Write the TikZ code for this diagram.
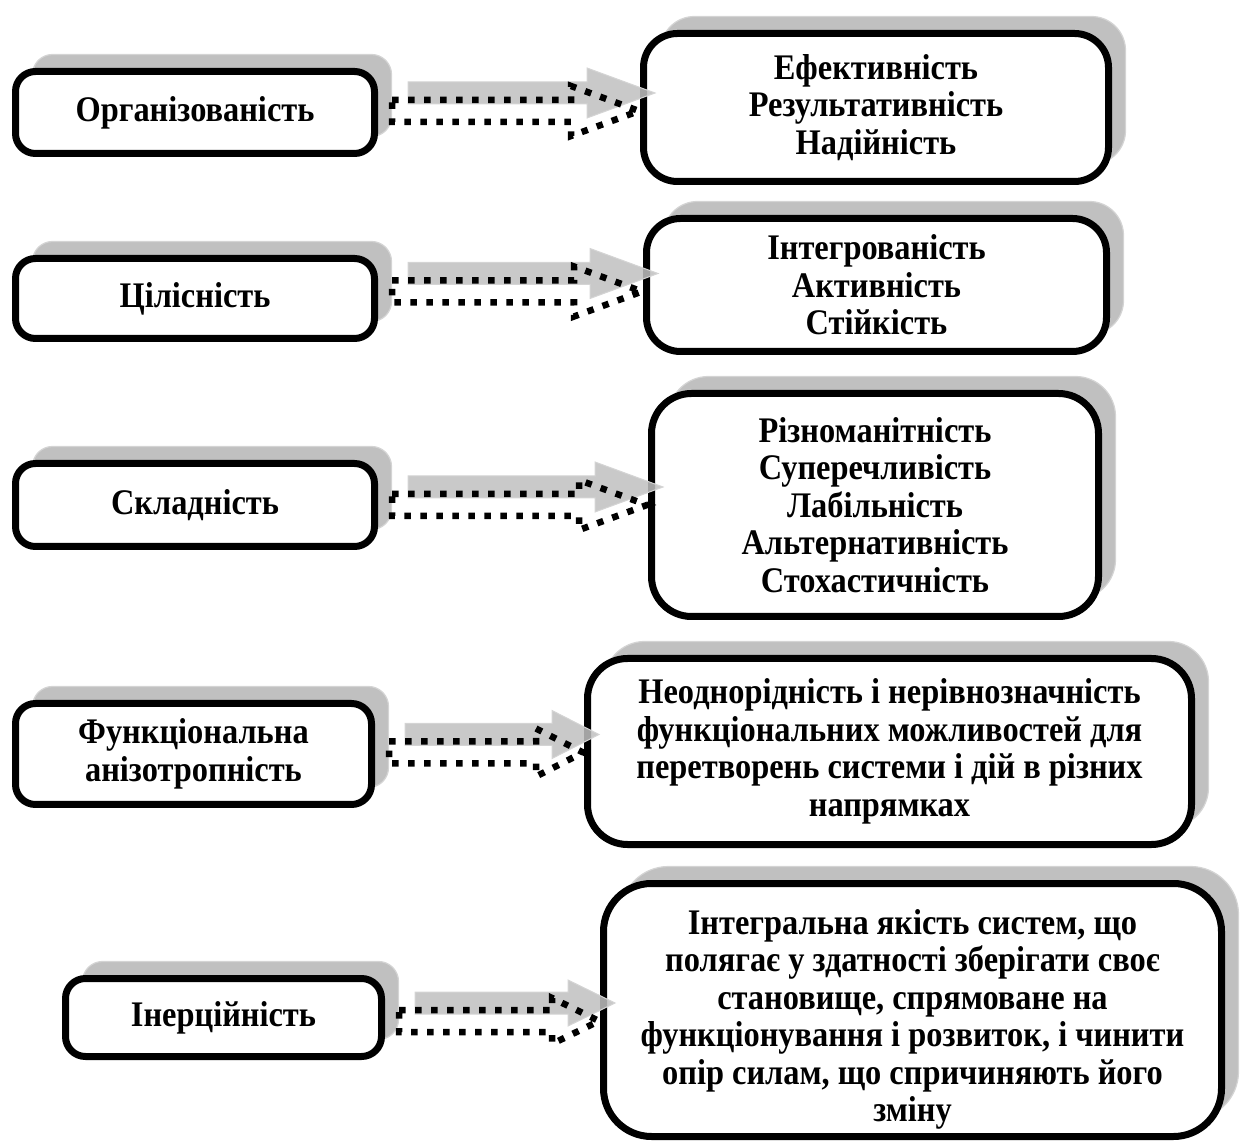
\documentclass[tikz,border=0pt]{standalone}
\usepackage{fontspec}
\setmainfont{Liberation Serif}[FakeStretch=0.9]
\usetikzlibrary{shadows,calc}
\definecolor{shgray}{RGB}{192,192,192}
\definecolor{shedge}{RGB}{212,212,212}
\newcommand\boxfont{\bfseries\fontsize{36}{37.5}\selectfont}
\tikzset{
  lbox/.style={draw=black, line width=7pt, fill=white, rounded corners=20pt,
    align=center, inner sep=2pt, font=\boxfont,
    general shadow={fill=shgray, draw=shedge, line width=1.2pt,
      shadow xshift=17pt, shadow yshift=17pt}},
  rbox/.style={lbox, rounded corners=34pt},
  garrow/.style={fill=shgray, draw=shedge, line width=1pt, fill opacity=0.85},
  darrow/.style={draw=black, line width=6.5pt, dash pattern=on 6.5pt off 9.5pt, line join=miter},
}
\newcommand\arrowshape[3]{($(A)+(#1,#2+11)$) -- ($(H)+(#1,#2+11)$) -- ($(H)+(#1,#2+#3)$) -- ($(T)+(#1,#2)$) -- ($(H)+(#1,#2-#3)$) -- ($(H)+(#1,#2-11)$) -- ($(A)+(#1,#2-11)$) -- cycle}
% #1 from node, #2 to node, #3 arrow y, #4 head length, #5 head half height
\newcommand\twinarrow[5]{%
  \path let \p1=(#1.east), \p2=(#2.west) in
    coordinate (A) at (\x1+14pt,#3pt)
    coordinate (T) at (\x2-1pt,#3pt)
    coordinate (H) at (\x2-1pt-#4pt,#3pt);
  \draw[garrow] \arrowshape{16}{18}{#5};
  \draw[darrow] \arrowshape{0}{0}{#5};
}
\begin{document}
\begin{tikzpicture}[x=1pt,y=1pt]
\useasboundingbox (0,0) rectangle (1242,1144);

% left boxes
\node[lbox, minimum width=359pt, minimum height=82pt] (l1) at (195,1031.5) {Організованість};
\node[lbox, minimum width=359pt, minimum height=80pt] (l2) at (195,845.5) {Цілісність};
\node[lbox, minimum width=359pt, minimum height=83pt] (l3) at (195,639) {Складність};
\node[lbox, minimum width=356pt, minimum height=101pt] (l4) at (193.5,390) {Функціональна\\анізотропність};
\node[lbox, minimum width=316pt, minimum height=78pt] (l5) at (223.5,126.5) {Інерційність};

% right boxes
\node[rbox, minimum width=465pt, minimum height=148pt] (r1) at (876,1036.5)
  {Ефективність\\Результативність\\Надійність};
\node[rbox, minimum width=460pt, minimum height=133pt] (r2) at (876.5,859)
  {Інтегрованість\\Активність\\Стійкість};
\node[rbox, rounded corners=40pt, minimum width=447pt, minimum height=223pt] (r3) at (875,639)
  {Різноманітність\\Суперечливість\\Лабільність\\Альтернативність\\Стохастичність};
\node[rbox, rounded corners=40pt, minimum width=604pt, minimum height=186pt] (r4) at (889.5,392.5)
  {Неоднорідність і нерівнозначність\\функціональних можливостей для\\перетворень системи і дій в різних\\напрямках};
\node[rbox, rounded corners=48pt, minimum width=618pt, minimum height=253pt] (r5) at (912.5,134)
  {\rule{0pt}{44pt}Інтегральна якість систем, що\\полягає у здатності зберігати своє\\становище, спрямоване на\\функціонування і розвиток, і чинити\\опір силам, що спричиняють його\\зміну};

% arrows
\twinarrow{l1}{r1}{1033}{68}{25}
\twinarrow{l2}{r2}{852.5}{68}{25}
\twinarrow{l3}{r3}{639}{68}{25}
\twinarrow{l4}{r4}{391.5}{47}{24}
\twinarrow{l5}{r5}{123}{47}{23}
\end{tikzpicture}
\end{document}
